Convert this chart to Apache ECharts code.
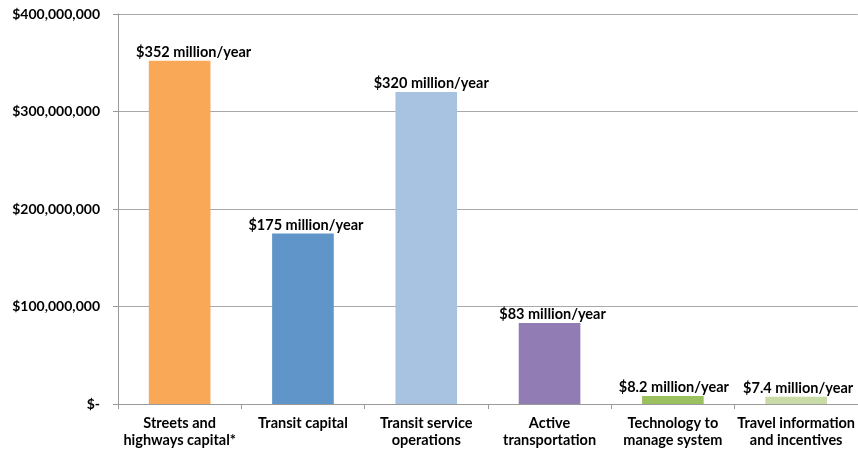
<!DOCTYPE html>
<html><head><meta charset="utf-8">
<script src="https://cdn.jsdelivr.net/npm/echarts@6/dist/echarts.min.js"></script>
<style>html,body{margin:0;padding:0;background:#fff}#c{width:858px;height:451px}</style>
</head><body><div id="c"></div>
<script>
const categories = ["Streets and\nhighways capital*", "Transit capital", "Transit service\noperations", "Active\ntransportation", "Technology to\nmanage system", "Travel information\nand incentives"];
const values = [352000000, 175000000, 320000000, 83000000, 8200000, 7400000];
const valueLabels = ["$352 million/year", "$175 million/year", "$320 million/year", "$83 million/year", "$8.2 million/year", "$7.4 million/year"];
const colors = ["#F8A857", "#5F95C8", "#A8C3E1", "#917CB3", "#9CBF5F", "#C9DBA6"];
const yTicks = [0, 100000000, 200000000, 300000000, 400000000];
const labelShift = [14, 3, 5, 3, 1, 2];

const FONT = "Lato";
function fmt(v){ if(v===0) return "$-"; return "$" + v.toLocaleString("en-US"); }

const chart = echarts.init(document.getElementById('c'), null, {renderer:'canvas'});
chart.setOption({
  animation:false,
  grid:{left:118, right:0, top:14, bottom:47, containLabel:false},
  xAxis:{type:'category', data:categories,
    axisLine:{lineStyle:{color:'#9a9a9a', width:1}},
    axisTick:{show:true, alignWithLabel:false, length:5, lineStyle:{color:'#9a9a9a'}},
    axisLabel:{interval:0, color:'#000', fontFamily:FONT, fontWeight:'bold', fontSize:14.5, lineHeight:17, margin:11}
  },
  yAxis:{type:'value', min:yTicks[0], max:yTicks[yTicks.length-1], interval:100000000,
    axisLine:{show:true, lineStyle:{color:'#9a9a9a'}},
    axisTick:{show:true, length:5, lineStyle:{color:'#9a9a9a'}},
    splitLine:{lineStyle:{color:'#a8a8a8', width:1}},
    axisLabel:{color:'#000', fontFamily:FONT, fontWeight:'bold', fontSize:14, margin:18, formatter:fmt}
  },
  series:[{type:'bar', barWidth:'50%',
    data: values.map((v,i)=>({value:v, itemStyle:{color:colors[i]}, label:{offset:[labelShift[i],0]}})),
    label:{show:true, position:'top', distance:1, color:'#000', fontFamily:FONT, fontWeight:'bold', fontSize:14.5,
      formatter:(p)=>valueLabels[p.dataIndex]}
  }]
});
</script></body></html>
